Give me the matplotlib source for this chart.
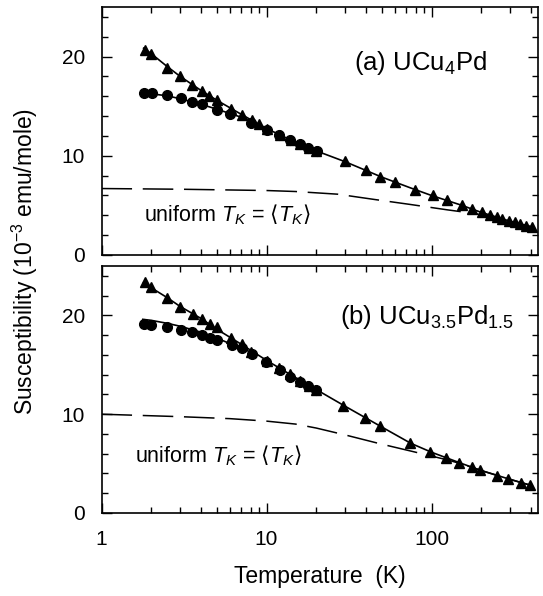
import numpy as np
import matplotlib
matplotlib.use("Agg")
import matplotlib.pyplot as plt
from matplotlib.ticker import LogLocator, MultipleLocator, NullFormatter, FixedLocator

plt.rcParams['font.family'] = ['Liberation Sans', 'DejaVu Sans']
plt.rcParams['mathtext.fontset'] = 'custom'
plt.rcParams['mathtext.rm'] = 'Liberation Sans'
plt.rcParams['mathtext.it'] = 'Liberation Sans:italic'
plt.rcParams['mathtext.fallback'] = 'stixsans'

# ---------------- data: panel (a) UCu4Pd ----------------
a_tri_T = [1.83, 1.99, 2.5, 2.99, 3.52, 4.05, 4.48, 4.99, 6.07, 7.07, 8.13, 9.05, 10.1,
           12.0, 14.0, 16.0, 18.0, 20.0,
           29.9, 40.1, 48.7, 60, 79.4, 102.6, 124.7, 152, 175, 201, 226, 248, 269, 296,
           321, 344, 374, 405]
a_tri_chi = [20.7, 20.3, 18.9, 18.0, 17.1, 16.5, 16.0, 15.6, 14.7, 14.1, 13.6, 13.2, 12.7,
             12.1, 11.6, 11.2, 10.8, 10.5,
             9.5, 8.6, 7.9, 7.4, 6.6, 6.0, 5.5, 5.05, 4.6, 4.3, 4.0, 3.8, 3.6, 3.45,
             3.3, 3.1, 2.95, 2.85]
a_cir_T = [1.81, 2.01, 2.5, 3.02, 3.52, 4.05, 5.04, 6.0, 8.0, 10.0, 11.9, 13.9, 16.0, 17.9, 20.2]
a_cir_chi = [16.35, 16.3, 16.1, 15.8, 15.4, 15.2, 14.6, 14.2, 13.3, 12.6, 12.1, 11.6, 11.2, 10.8, 10.5]
a_fit_tri_T = [1.8, 2.0, 2.5, 3.0, 4.0, 5.0, 7.0, 10.0, 14.0, 20.0, 30.0, 50.0, 75.0, 100.0, 150.0, 200.0, 300.0, 400.0]
a_fit_tri_chi = [20.85, 20.3, 19.0, 18.0, 16.6, 15.6, 14.2, 12.75, 11.6, 10.5, 9.4, 7.85, 6.75, 6.0, 5.05, 4.3, 3.4, 2.85]
a_fit_cir_T = [1.78, 2.0, 2.5, 3.0, 4.0, 5.0, 7.0, 10.0]
a_fit_cir_chi = [16.35, 16.25, 16.05, 15.75, 15.2, 14.7, 13.9, 12.75]
a_unif_T = [1.0, 3.0, 10.0, 15.0, 27.0, 45.0, 74.0, 125.0, 170.0, 220.0, 300.0, 400.0]
a_unif_chi = [6.7, 6.63, 6.5, 6.4, 6.13, 5.6, 5.1, 4.55, 4.25, 3.95, 3.4, 2.85]

# ---------------- data: panel (b) UCu3.5Pd1.5 ----------------
b_tri_T = [1.83, 1.99, 2.5, 2.99, 3.57, 4.05, 4.54, 5.04, 6.07, 7.07, 8.0, 10.1, 11.95, 13.9,
           16.0, 18.0, 20.0,
           29.2, 39.4, 48.7, 73.9, 98.5, 123, 147, 175, 196, 248, 291, 351, 397]
b_tri_chi = [23.4, 22.9, 21.8, 20.9, 20.1, 19.6, 19.1, 18.8, 17.7, 17.1, 16.3, 15.4, 14.7, 14.05,
             13.4, 12.9, 12.5,
             10.8, 9.65, 8.8, 7.05, 6.2, 5.6, 5.1, 4.7, 4.35, 3.75, 3.4, 3.0, 2.8]
b_cir_T = [1.81, 1.99, 2.5, 3.02, 3.52, 4.05, 4.54, 4.99, 6.15, 7.07, 8.13, 9.9, 12.1, 13.9, 15.9, 17.9, 19.9]
b_cir_chi = [19.1, 19.0, 18.8, 18.5, 18.3, 18.0, 17.7, 17.5, 17.0, 16.7, 16.1, 15.3, 14.5, 13.8, 13.3, 12.9, 12.45]
b_fit_tri_T = [1.8, 2.0, 2.5, 3.0, 4.0, 5.0, 7.0, 10.0, 14.0, 20.0, 30.0, 50.0, 75.0, 100.0, 150.0, 200.0, 300.0, 400.0]
b_fit_tri_chi = [23.35, 22.8, 21.8, 20.9, 19.7, 18.6, 17.1, 15.45, 14.0, 12.5, 10.8, 8.7, 7.05, 6.15, 5.05, 4.3, 3.4, 2.8]
b_fit_cir_T = [1.78, 2.0, 2.5, 3.0, 4.0, 5.0, 6.0, 8.0]
b_fit_cir_chi = [19.6, 19.5, 19.2, 18.9, 18.3, 17.7, 17.15, 16.3]
b_unif_T = [1.0, 3.0, 6.0, 10.0, 15.0, 20.0, 30.0, 49.0, 78.0, 123.0, 150.0, 200.0, 300.0, 400.0]
b_unif_chi = [10.0, 9.75, 9.55, 9.3, 9.0, 8.6, 7.9, 7.0, 6.2, 5.4, 5.0, 4.3, 3.4, 2.8]

W, H = 543, 596
fig = plt.figure(figsize=(W / 100, H / 100), dpi=100)

left = 101.5 / W
width = (538 - 101.5) / W
axA = fig.add_axes([left, 1 - 255 / H, width, (255 - 7) / H])
axB = fig.add_axes([left, 1 - 513 / H, width, (513 - 266) / H])

panels = [
    (axA, a_tri_T, a_tri_chi, a_cir_T, a_cir_chi, a_fit_tri_T, a_fit_tri_chi,
     a_fit_cir_T, a_fit_cir_chi, a_unif_T, a_unif_chi,
     r'(a) UCu$_4$Pd', (34.0, 19.4), (1.82, 4.1)),
    (axB, b_tri_T, b_tri_chi, b_cir_T, b_cir_chi, b_fit_tri_T, b_fit_tri_chi,
     b_fit_cir_T, b_fit_cir_chi, b_unif_T, b_unif_chi,
     r'(b) UCu$_{3.5}$Pd$_{1.5}$', (28.0, 19.8), (1.6, 5.85)),
]

for (ax, tT, tC, cT, cC, ftT, ftC, fcT, fcC, uT, uC, label, lpos, upos) in panels:
    ax.set_xscale('log')
    ax.set_xlim(1, 442)
    ax.set_ylim(0, 25)
    ax.plot(uT, uC, color='black', lw=1.1, dashes=(20, 7))
    ax.plot(ftT, ftC, color='black', lw=1.2)
    ax.plot(fcT, fcC, color='black', lw=1.2)
    ax.plot(tT, tC, linestyle='none', marker='^', ms=7, color='black')
    ax.plot(cT, cC, linestyle='none', marker='o', ms=7, color='black')
    ax.text(lpos[0], lpos[1], label, fontsize=18.5, va='center', ha='left')
    ax.text(upos[0], upos[1], 'uniform $T_K$ = $\\mathsf{\u27e8}T_K\\mathsf{\u27e9}$',
            fontsize=15.5, va='center', ha='left')

    ax.yaxis.set_major_locator(FixedLocator([0, 10, 20]))
    ax.yaxis.set_minor_locator(MultipleLocator(2))
    ax.xaxis.set_major_locator(LogLocator(base=10))
    ax.xaxis.set_minor_locator(LogLocator(base=10, subs=np.arange(2, 10)))
    ax.xaxis.set_minor_formatter(NullFormatter())
    ax.tick_params(which='both', direction='in', top=True, right=True, width=1.0)
    ax.tick_params(which='major', length=7, labelsize=15)
    ax.tick_params(which='minor', length=4)
    for s in ax.spines.values():
        s.set_linewidth(1.2)

axA.tick_params(axis='x', labelbottom=False)
axB.set_xticks([1, 10, 100])
axB.set_xticklabels(['1', '10', '100'])
axB.tick_params(axis='x', pad=12)
axA.tick_params(axis='y', pad=12)
axB.tick_params(axis='y', pad=12)

fig.text(0.5 * (101.5 + 538) / W, 1 - 577 / H, 'Temperature  (K)', fontsize=16.5,
         ha='center', va='center')
fig.text(25 / W, 1 - 262 / H, r'Susceptibility (10$^{-3}$ emu/mole)', fontsize=16.5,
         rotation=90, ha='center', va='center')

fig.savefig('out.png', dpi=100)
